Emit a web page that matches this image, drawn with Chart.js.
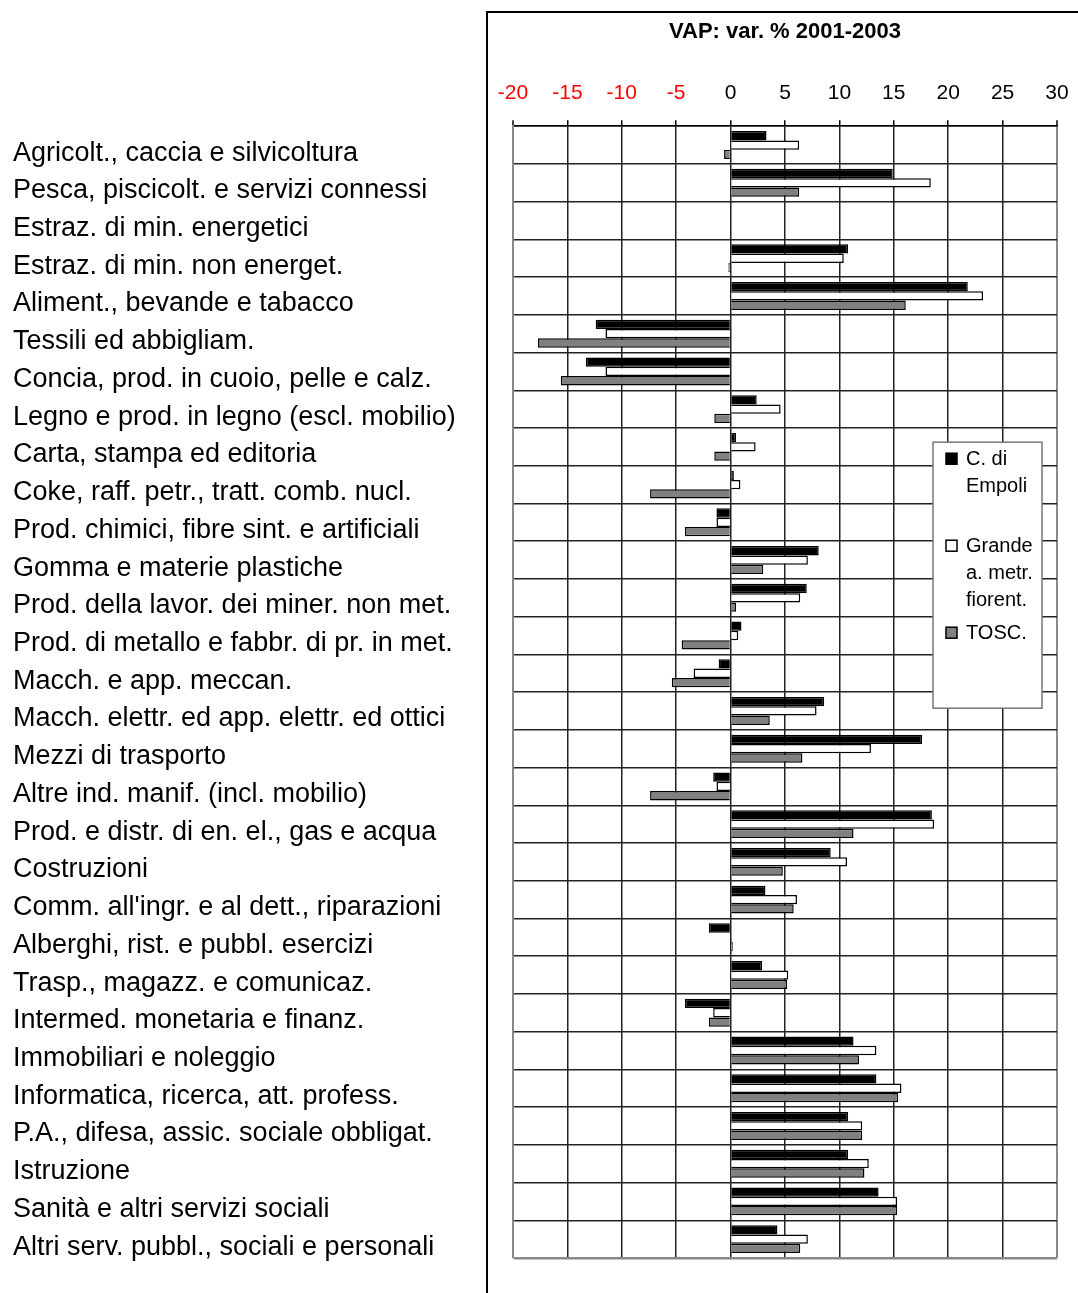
<!DOCTYPE html>
<html lang="it">
<head>
<meta charset="utf-8">
<title>VAP: var. % 2001-2003</title>
<script src="https://cdn.jsdelivr.net/npm/chart.js@4"></script>
<style>
  html, body { margin: 0; padding: 0; background: #fff; }
  canvas { display: block; }
</style>
</head>
<body>
<canvas id="chart" width="1078" height="1293"></canvas>
<script>
// titolo e dati
const chartTitle = "VAP: var. % 2001-2003";

const categories = [
  "Agricolt., caccia e silvicoltura",
  "Pesca, piscicolt. e servizi connessi",
  "Estraz. di min. energetici",
  "Estraz. di min. non energet.",
  "Aliment., bevande e tabacco",
  "Tessili ed abbigliam.",
  "Concia, prod. in cuoio, pelle e calz.",
  "Legno e prod. in legno (escl. mobilio)",
  "Carta, stampa ed editoria",
  "Coke, raff. petr., tratt. comb. nucl.",
  "Prod. chimici, fibre sint. e artificiali",
  "Gomma e materie plastiche",
  "Prod. della lavor. dei miner. non met.",
  "Prod. di metallo e fabbr. di pr. in met.",
  "Macch. e app. meccan.",
  "Macch. elettr. ed app. elettr. ed ottici",
  "Mezzi di trasporto",
  "Altre ind. manif. (incl. mobilio)",
  "Prod. e distr. di en. el., gas e acqua",
  "Costruzioni",
  "Comm. all'ingr. e al dett., riparazioni",
  "Alberghi, rist. e pubbl. esercizi",
  "Trasp., magazz. e comunicaz.",
  "Intermed. monetaria e finanz.",
  "Immobiliari e noleggio",
  "Informatica, ricerca, att. profess.",
  "P.A., difesa, assic. sociale obbligat.",
  "Istruzione",
  "Sanità e altri servizi sociali",
  "Altri serv. pubbl., sociali e personali"
];

// nomi delle serie, riga per riga come nella legenda
const seriesNames = [["C. di", "Empoli"], ["Grande", "a. metr.", "fiorent."], ["TOSC."]];

const empoli = [3.3, 14.9, null, 10.8, 21.8, -12.4, -13.3, 2.4, 0.5, 0.3,
  -1.3, 8.1, 7.0, 1.0, -1.1, 8.6, 17.6, -1.6, 18.5, 9.2,
  3.2, -2.0, 2.9, -4.2, 11.3, 13.4, 10.8, 10.8, 13.6, 4.3];
const areaFiorentina = [6.3, 18.4, null, 10.4, 23.2, -11.5, -11.5, 4.6, 2.3, 0.9,
  -1.3, 7.1, 6.4, 0.7, -3.4, 7.9, 12.9, -1.3, 18.7, 10.7,
  6.1, 0.1, 5.3, -1.6, 13.4, 15.7, 12.1, 12.7, 15.3, 7.1];
const toscana = [-0.6, 6.3, null, -0.2, 16.1, -17.7, -15.6, -1.5, -1.5, -7.4,
  -4.2, 3.0, 0.5, -4.5, -5.4, 3.6, 6.6, -7.4, 11.3, 4.8,
  5.8, 0.2, 5.2, -2.0, 11.8, 15.4, 12.1, 12.3, 15.3, 6.4];

const xMin = -20;
const xMax = 30;
const xStep = 5;

const seriesColors = ["#000000", "#ffffff", "#808080"];
const FONT = "'Liberation Sans', Arial, sans-serif";

// cornice, titolo e legenda disegnati a mano
const decorPlugin = {
  id: "decor",
  afterDraw(chart) {
    const { ctx, chartArea } = chart;
    ctx.save();

    ctx.strokeStyle = "#000";
    ctx.lineWidth = 2;
    ctx.beginPath();
    ctx.moveTo(487, chart.height);
    ctx.lineTo(487, 12);
    ctx.lineTo(chart.width, 12);
    ctx.stroke();

    ctx.fillStyle = "#000";
    ctx.font = "bold 22px " + FONT;
    ctx.textAlign = "center";
    ctx.textBaseline = "middle";
    ctx.fillText(chartTitle, (chartArea.left + chartArea.right) / 2, 32);

    // legenda
    const boxX = chartArea.right - 124;
    const boxY = chartArea.top + 316;
    ctx.fillStyle = "#fff";
    ctx.fillRect(boxX, boxY, 109, 266);
    ctx.strokeStyle = "#777";
    ctx.lineWidth = 1.5;
    ctx.strokeRect(boxX, boxY, 109, 266);

    ctx.font = "20px " + FONT;
    ctx.textAlign = "left";
    chart.data.datasets.forEach((ds, i) => {
      const y0 = boxY + 17 + i * 87;
      ctx.fillStyle = ds.backgroundColor;
      ctx.fillRect(boxX + 13, y0 - 6, 11, 11);
      ctx.strokeStyle = "#000";
      ctx.lineWidth = 1.5;
      ctx.strokeRect(boxX + 13, y0 - 6, 11, 11);
      ctx.fillStyle = "#000";
      seriesNames[i].forEach((line, j) => {
        ctx.fillText(line, boxX + 33, y0 + j * 27);
      });
    });

    ctx.restore();
  }
};

const isXEdge = c => c.tick && (c.tick.value === xMin || c.tick.value === xMax);
const isYEdge = c => !c.tick;

new Chart(document.getElementById("chart"), {
  type: "bar",
  data: {
    labels: categories,
    datasets: [empoli, areaFiorentina, toscana].map((values, i) => ({
      label: seriesNames[i].join(" "),
      data: values,
      backgroundColor: seriesColors[i],
      borderColor: "#000",
      borderWidth: 1.5,
      categoryPercentage: 0.74,
      barPercentage: 1
    }))
  },
  options: {
    indexAxis: "y",
    responsive: false,
    animation: false,
    layout: { padding: { top: 67, left: 13, right: 21, bottom: 35 } },
    plugins: {
      legend: { display: false },
      title: { display: false },
      tooltip: { enabled: false }
    },
    scales: {
      x: {
        position: "top",
        min: xMin,
        max: xMax,
        ticks: {
          stepSize: xStep,
          maxRotation: 0,
          padding: 14,
          color: c => (c.tick.value < 0 ? "#ff0000" : "#000"),
          font: { family: FONT, size: 21 }
        },
        grid: {
          color: c => (isXEdge(c) ? "#888" : "#222"),
          lineWidth: c => (isXEdge(c) ? 2 : 1.5),
          tickLength: 6,
          tickColor: "#000",
          tickWidth: 1.5
        },
        border: { color: "#000", width: 1.5 },
        afterFit(scale) {
          // niente spazio extra per l'ultima etichetta
          scale.paddingLeft = 0;
          scale.paddingRight = 0;
        }
      },
      y: {
        ticks: {
          autoSkip: false,
          crossAlign: "far",
          labelOffset: 8,
          color: "#000",
          font: { family: FONT, size: 27 }
        },
        grid: {
          offset: true,
          drawTicks: false,
          color: c => (isYEdge(c) ? "#888" : "#222"),
          lineWidth: c => (isYEdge(c) ? 2.5 : 1.5)
        },
        border: { color: "#888", width: 2 },
        afterFit(scale) {
          scale.width = 500;
        }
      }
    }
  },
  plugins: [decorPlugin]
});
</script>
</body>
</html>
